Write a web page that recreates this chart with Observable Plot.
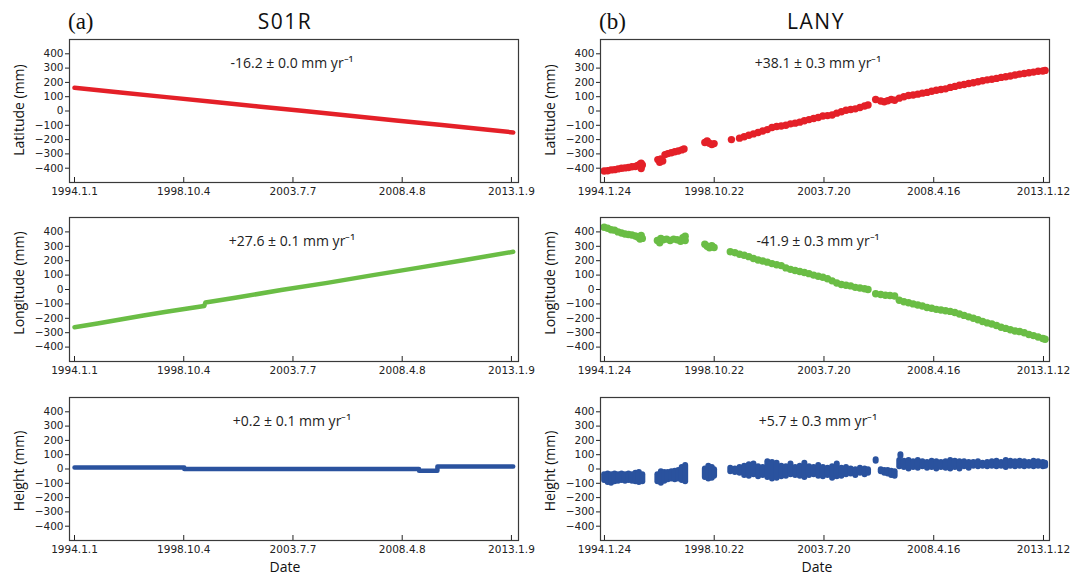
<!DOCTYPE html>
<html><head><meta charset="utf-8">
<script src="https://cdn.jsdelivr.net/npm/d3@7"></script>
<script src="https://cdn.jsdelivr.net/npm/@observablehq/plot@0.6"></script>
<style>
body{margin:0;background:#fff;}
#root{position:relative;width:1075px;height:575px;overflow:hidden;background:#fff;font-family:"Open Sans",sans-serif;color:#111;}
.abs{position:absolute;white-space:nowrap;}
.panel{position:absolute;}
.tag{font-family:"Liberation Serif",serif;font-size:23px;line-height:1;}
.ttl{font-family:"Open Sans",sans-serif;font-size:21px;letter-spacing:1.5px;line-height:1;transform:translate(-50%,0);}
.ylab{font-size:14px;line-height:1;transform:translate(-50%,-50%) rotate(-90deg);}
.xlab{font-size:14px;line-height:15px;transform:translate(-50%,-50%);}
</style></head><body><div id="root"></div>
<script>
// ---------- tick labels ----------
const xTicksS01R = ["1994.1.1", "1998.10.4", "2003.7.7", "2008.4.8", "2013.1.9"];
const xTicksLANY = ["1994.1.24", "1998.10.22", "2003.7.20", "2008.4.16", "2013.1.12"];
const yTicks = [-400, -300, -200, -100, 0, 100, 200, 300, 400];
const yLabels = ["Latitude (mm)", "Longitude (mm)", "Height (mm)"];
const rateS01R = ["-16.2 ± 0.0 mm yr⁻¹", "+27.6 ± 0.1 mm yr⁻¹", "+0.2 ± 0.1 mm yr⁻¹"];
const rateLANY = ["+38.1 ± 0.3 mm yr⁻¹", "-41.9 ± 0.3 mm yr⁻¹", "+5.7 ± 0.3 mm yr⁻¹"];

// ---------- S01R (decimal year, mm) ----------
const s01rLatYears = [1994.0, 1996.0, 1998.0, 2000.0, 2002.0, 2004.0, 2006.0, 2008.0, 2010.0, 2012.0, 2013.1];
const s01rLat      = [162, 130, 97, 65, 32, 0, -33, -66, -98, -131, -150];
const s01rLonYears = [1994.0, 1995.0, 1996.0, 1997.0, 1998.0, 1999.0, 1999.65, 1999.7, 2001.0, 2003.0, 2005.0, 2007.0, 2009.0, 2011.0, 2013.1];
const s01rLon      = [-262, -236, -208, -181, -155, -130, -114, -90, -57, -4, 46, 100, 152, 205, 262];
const s01rHgtYears = [1994.0, 1998.78, 2009.0, 2009.8, 2013.1];
const s01rHgt      = [10, 0, -13, 17, 17];

// ---------- LANY latitude ----------
const lanyLatYears = [1994.05,1994.2,1994.35,1994.5,1994.65,1994.8,1994.95,1995.1,1995.25,1995.4,1995.5,1995.6,1995.65,1995.65,1995.7,
  1996.37,1996.45,1996.5,1996.58,1996.68,1996.8,1996.95,1997.1,1997.25,1997.4,1997.5,
  1998.4,1998.5,1998.6,1998.7,1998.8,
  1999.55,
  1999.9,2000.1,2000.3,2000.5,2000.7,2000.9,2001.1,2001.3,2001.5,2001.7,2001.9,2002.1,2002.3,2002.5,2002.7,2002.9,2003.1,2003.3,2003.5,2003.7,2003.9,2004.1,2004.3,2004.5,2004.7,2004.9,2005.1,2005.3,2005.45,
  2005.78,
  2006.0,2006.15,2006.3,2006.45,2006.6,
  2006.8,2007.0,2007.2,2007.4,2007.6,2007.8,2008.0,2008.2,2008.4,2008.6,2008.8,2009.0,2009.2,2009.4,2009.6,2009.8,2010.0,2010.2,2010.4,2010.6,2010.8,2011.0,2011.2,2011.4,2011.6,2011.8,2012.0,2012.2,2012.4,2012.6,2012.8,2013.0,2013.1];
const lanyLat = [-420,-418,-412,-410,-405,-400,-398,-395,-390,-388,-380,-372,-365,-402,-378,
  -340,-358,-335,-350,-305,-298,-292,-285,-280,-272,-265,
  -220,-210,-225,-235,-228,
  -200,
  -190,-180,-170,-160,-150,-140,-130,-115,-108,-105,-100,-90,-85,-78,-68,-60,-52,-45,-35,-32,-28,-15,-5,5,10,15,25,35,42,
  80,
  70,65,72,80,75,
  90,100,108,112,118,125,130,138,145,150,155,165,172,180,185,192,198,205,212,218,222,228,235,240,245,252,258,262,268,272,278,280,284];

// ---------- LANY longitude ----------
const lanyLonYears = [1994.05,1994.2,1994.35,1994.5,1994.65,1994.8,1994.95,1995.1,1995.25,1995.4,1995.5,1995.6,1995.65,1995.7,
  1996.35,1996.45,1996.5,1996.6,1996.75,1996.9,1997.05,1997.2,1997.35,1997.45,1997.55,1997.55,
  1998.4,1998.5,1998.6,1998.7,1998.8,
  1999.5,1999.7,1999.9,2000.1,2000.3,2000.5,2000.7,2000.9,2001.1,2001.3,2001.5,2001.7,2001.9,2002.1,2002.3,2002.5,2002.7,2002.9,2003.1,2003.3,2003.5,2003.7,2003.9,2004.1,2004.3,2004.5,2004.7,2004.9,2005.1,2005.3,2005.45,
  2005.78,
  2006.0,2006.2,2006.4,2006.6,
  2006.8,2007.0,2007.2,2007.4,2007.6,2007.8,2008.0,2008.2,2008.4,2008.6,2008.8,2009.0,2009.2,2009.4,2009.6,2009.8,2010.0,2010.2,2010.4,2010.6,2010.8,2011.0,2011.2,2011.4,2011.6,2011.8,2012.0,2012.2,2012.4,2012.6,2012.8,2013.0,2013.1];
const lanyLon = [432,425,415,412,400,392,385,382,378,372,365,350,375,355,
  340,325,355,345,350,340,350,345,335,360,370,340,
  315,300,290,305,292,
  262,255,245,238,228,215,205,198,190,180,172,166,150,140,132,125,118,110,100,92,85,75,60,45,35,30,25,15,10,5,0,
  -30,
  -35,-40,-42,-45,
  -75,-85,-92,-100,-108,-115,-125,-130,-138,-142,-148,-152,-160,-170,-180,-190,-200,-210,-222,-232,-240,-250,-262,-270,-280,-288,-292,-300,-312,-320,-330,-340,-345];

// ---------- LANY height (scatter spread: low / high) ----------
const lanyHgtYears = [1994.05,1994.2,1994.35,1994.5,1994.65,1994.8,1994.95,1995.1,1995.25,1995.4,1995.55,1995.7,
  1996.35,1996.5,1996.65,1996.8,1996.95,1997.1,1997.25,1997.4,1997.55,
  1998.4,1998.55,1998.7,1998.8,
  1999.5,1999.7,1999.9,2000.1,2000.3,2000.5,2000.7,2000.9,2001.1,2001.3,2001.5,2001.7,2001.9,2002.1,2002.3,2002.5,2002.7,2002.9,2003.1,2003.3,2003.5,2003.7,2003.9,2004.1,2004.3,2004.5,2004.7,2004.9,2005.1,2005.3,2005.45,
  2005.78,
  2006.0,2006.15,2006.3,2006.45,2006.6,
  2006.8,2006.85,2007.0,2007.2,2007.4,2007.6,2007.8,2008.0,2008.2,2008.4,2008.6,2008.8,2009.0,2009.2,2009.4,2009.6,2009.8,2010.0,2010.2,2010.4,2010.6,2010.8,2011.0,2011.2,2011.4,2011.6,2011.8,2012.0,2012.2,2012.4,2012.6,2012.8,2013.0,2013.1];
const lanyHgtLow = [-80,-95,-100,-90,-85,-80,-85,-80,-85,-90,-95,-90,
  -90,-100,-85,-75,-70,-75,-70,-80,-90,
  -60,-70,-65,-50,
  -20,-25,-30,-45,-50,-40,-55,-45,-60,-70,-65,-55,-50,-40,-45,-50,-60,-45,-40,-50,-55,-45,-65,-55,-50,-40,-35,-45,-30,-40,-30,
  55,
  -20,-30,-35,-45,-50,
  15,90,10,0,10,5,15,5,10,0,10,5,0,10,0,15,5,20,15,20,15,20,15,20,10,20,15,20,15,20,15,20,15,20];
const lanyHgtHigh = [-40,-35,-40,-35,-40,-35,-40,-35,-40,-30,-25,-40,
  -40,-20,-25,-25,-20,-15,-10,10,25,
  0,20,10,-5,
  5,0,10,20,30,35,15,10,50,45,40,20,15,35,10,20,40,15,10,25,10,5,15,35,5,10,0,-5,5,0,-5,
  65,
  -5,-10,-10,-15,-20,
  60,100,55,60,50,60,50,45,55,50,45,50,60,55,50,50,45,45,50,40,45,50,55,45,60,55,50,55,50,45,55,50,45,40];

// ---------- helpers ----------
function yr(y){const Y=Math.floor(y);const a=Date.UTC(Y,0,1),b=Date.UTC(Y+1,0,1);return new Date(a+(y-Y)*(b-a));}
function parseTick(s){const [y,m,d]=s.split(".").map(Number);return new Date(Date.UTC(y,m-1,d));}
const RED="#e42028", GREEN="#6abd45", BLUE="#2a529e";

const root=document.getElementById("root");
function addDiv(cls, text, css){const d=document.createElement("div");d.className="abs "+cls;d.textContent=text;Object.assign(d.style,css);root.appendChild(d);return d;}

const rows=[{top:30,frameH:143},{top:208,frameH:144},{top:388,frameH:143}];
const cols=[{left:0,width:540,ml:69,mr:22,domain:[yr(1993.782),yr(2013.33)],ticks:xTicksS01R,rates:rateS01R,dx:-2},
            {left:540,width:535,ml:60,mr:26,domain:[yr(1993.892),yr(2013.29)],ticks:xTicksLANY,rates:rateLANY,dx:-7}];
const MT=9, MB=24;

function dataMarks(ci, ri){
  if(ci===0){
    const ys=[s01rLatYears,s01rLonYears,s01rHgtYears][ri], vs=[s01rLat,s01rLon,s01rHgt][ri];
    const data=ys.map((y,i)=>({t:yr(y),v:vs[i]}));
    const color=[RED,GREEN,BLUE][ri];
    return [Plot.line(data,{x:"t",y:"v",stroke:color,strokeWidth:4.5,curve:ri===2?"step-after":"linear"})];
  }
  if(ri<2){
    const ys=ri===0?lanyLatYears:lanyLonYears, vs=ri===0?lanyLat:lanyLon;
    const data=ys.map((y,i)=>({t:yr(y),v:vs[i]}));
    return [Plot.dot(data,{x:"t",y:"v",r:3.7,fill:ri===0?RED:GREEN,stroke:"none"})];
  }
  const data=lanyHgtYears.map((y,i)=>({t:yr(y),lo:lanyHgtLow[i],hi:lanyHgtHigh[i]}));
  return [Plot.ruleX(data,{x:"t",y1:"lo",y2:"hi",stroke:BLUE,strokeWidth:6,strokeLinecap:"round"})];
}

cols.forEach((c,ci)=>{
  const tickDates=c.ticks.map(parseTick);
  const lab=new Map(tickDates.map((d,i)=>[+d,c.ticks[i]]));
  rows.forEach((r,ri)=>{
    const h=MT+r.frameH+MB;
    const svg=Plot.plot({
      width:c.width, height:h, marginLeft:c.ml, marginRight:c.mr, marginTop:MT, marginBottom:MB,
      style:{fontFamily:"DejaVu Sans",fontSize:"10.5px",color:"#222",background:"transparent",overflow:"visible"},
      x:{type:"utc",domain:c.domain},
      y:{domain:[-500,500]},
      marks:[
        ...dataMarks(ci,ri),
        Plot.frame({stroke:"#3a3a3a",strokeWidth:1.2}),
        Plot.axisY({ticks:yTicks,tickSize:4,tickPadding:2,label:null,tickFormat:d=>d<0?"\u2212"+(-d):String(d)}),
        Plot.axisX({ticks:tickDates,tickSize:-5,tickPadding:10,label:null,tickFormat:d=>lab.get(+d)}),
        Plot.text([c.rates[ri]],{frameAnchor:"top",dy:19,dx:c.dx,text:d=>d,fontSize:14,fontFamily:"Open Sans",fill:"#222"})
      ]
    });
    svg.classList.add("panel");
    svg.style.left=c.left+"px"; svg.style.top=r.top+"px";
    root.appendChild(svg);
  });
});

// titles & labels
addDiv("tag","(a)",{left:"68px",top:"10px"});
addDiv("tag","(b)",{left:"599px",top:"10px"});
addDiv("ttl","S01R",{left:"285px",top:"11px"});
addDiv("ttl","LANY",{left:"816px",top:"11px"});
const ylc=[110,283,471];
[19,550].forEach(x=>ylc.forEach((y,i)=>addDiv("ylab",yLabels[i],{left:x+"px",top:y+"px"})));
addDiv("xlab","Date",{left:"285px",top:"566px"});
addDiv("xlab","Date",{left:"817px",top:"566px"});
</script></body></html>
